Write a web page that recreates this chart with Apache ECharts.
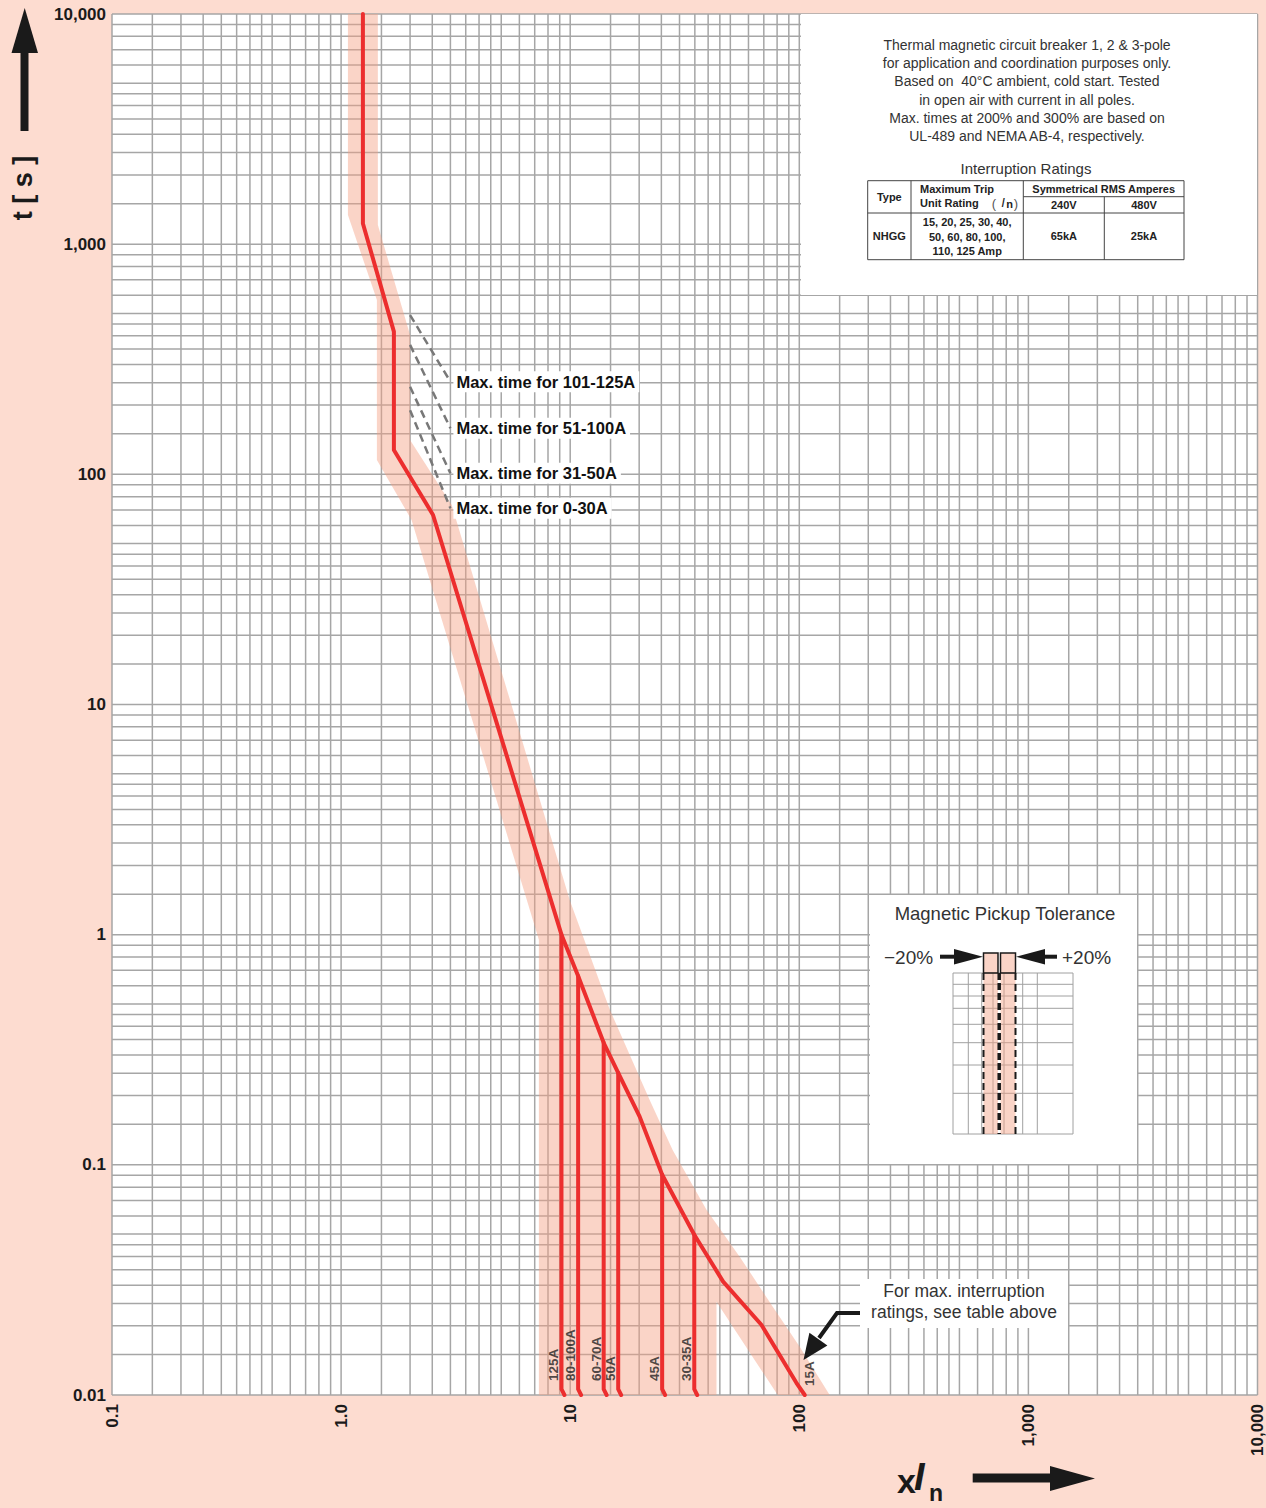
<!DOCTYPE html>
<html><head><meta charset="utf-8">
<script src="https://cdn.jsdelivr.net/npm/echarts@6/dist/echarts.min.js"></script>
<style>html,body{margin:0;padding:0;background:#fddcd0;}#c{width:1266px;height:1508px;}</style>
</head><body><div id="c"></div>
<script>
// ---------- axes ----------
const xTickValues = [0.1, 1, 10, 100, 1000, 10000];
const xTickLabels = ['0.1', '1.0', '10', '100', '1,000', '10,000'];
const yTickValues = [0.01, 0.1, 1, 10, 100, 1000, 10000];
const yTickLabels = ['0.01', '0.1', '1', '10', '100', '1,000', '10,000'];
const gridMantissas = [1, 1.5, 2, 2.5, 3, 3.5, 4, 4.5, 5, 6, 7, 8, 9];
const xDecades = [0.1, 1, 10, 100, 1000];
const yDecades = [0.01, 0.1, 1, 10, 100, 1000];

// ---------- trip curve (x / In , t [s]) ----------
const curveX = [1.245, 1.245, 1.70, 1.70, 2.52, 9.16, 10.83, 14.0, 16.2, 20.1, 25.2, 34.8, 46.5, 68.3, 97.1, 105.6];
const curveT = [10000, 1230, 417, 127.6, 66.6, 1, 0.662, 0.339, 0.251, 0.162, 0.0905, 0.0497, 0.0311, 0.0202, 0.0113, 0.01];

// instantaneous trip verticals
const tripLabels = ['125A', '80-100A', '60-70A', '50A', '45A', '30-35A'];
const tripX = [9.16, 10.83, 14.0, 16.2, 25.2, 34.8];
const tripTop = [1, 0.662, 0.339, 0.251, 0.0905, 0.0497];
const tripBottom = 0.01;
const endLabelText = '15A';

// max-time dashed lines (200% and 300%)
const maxTimeLabels = ['Max. time for 101-125A', 'Max. time for 51-100A', 'Max. time for 31-50A', 'Max. time for 0-30A'];
const maxTimeX = [2, 3];
const maxTimeAt200 = [492, 365, 240, 190];
const maxTimeAt300 = [252.7, 158.5, 101, 71.2];

// tolerance band outline
const bandX = [1.071, 1.071, 1.433, 1.433, 2.03, 7.30, 7.30, 43.5, 43.5, 80.5, 135.7, 100.4, 76.6, 55.0, 39.4, 28.0, 22.2, 14.9, 9.95, 3.04, 2.0, 2.0, 1.447, 1.447];
const bandT = [10000, 1340, 572, 115.5, 63.4, 0.95, 0.01, 0.01, 0.0254, 0.01, 0.01, 0.0162, 0.0242, 0.0398, 0.0637, 0.116, 0.1916, 0.4714, 1.416, 73.6, 141, 403, 1212, 10000];

// ---------- build ----------
const FONT = '"Liberation Sans", Arial, Helvetica, sans-serif';
const RED = '#ec2e2e';
const xGrid = [], yGrid = [];
xDecades.forEach(d => gridMantissas.forEach(m => xGrid.push(d * m)));
xGrid.push(10000);
yDecades.forEach(d => gridMantissas.forEach(m => yGrid.push(d * m)));
yGrid.push(10000);

function tickLabel(vals, labels) {
  return v => {
    const i = vals.findIndex(t => Math.abs(Math.log10(t) - Math.log10(v)) < 1e-6);
    return i >= 0 ? labels[i] : '';
  };
}

const series = [];
// grid lines (vertical)
series.push({
  type: 'custom', z: 1, silent: true, animation: false,
  data: xGrid.map(v => [v, 1]),
  renderItem(params, api) {
    const cs = params.coordSys; const p = api.coord([api.value(0), 1]);
    return { type: 'line', shape: { x1: p[0], y1: cs.y, x2: p[0], y2: cs.y + cs.height }, style: { stroke: '#a6a6a6', lineWidth: 1.5 } };
  }
});
// grid lines (horizontal)
series.push({
  type: 'custom', z: 1, silent: true, animation: false,
  data: yGrid.map(v => [1, v]),
  renderItem(params, api) {
    const cs = params.coordSys; const p = api.coord([1, api.value(1)]);
    return { type: 'line', shape: { x1: cs.x, y1: p[1], x2: cs.x + cs.width, y2: p[1] }, style: { stroke: '#a6a6a6', lineWidth: 1.5 } };
  }
});
// tolerance band
series.push({
  type: 'custom', z: 2, silent: true, animation: false,
  data: bandX.map((x, i) => [x, bandT[i]]),
  renderItem(params, api) {
    if (params.dataIndex !== 0) return null;
    const pts = bandX.map((x, i) => api.coord([x, bandT[i]]));
    return { type: 'polygon', shape: { points: pts }, style: { fill: 'rgba(245,160,130,0.45)' } };
  }
});
// trip verticals
tripX.forEach((x, i) => {
  series.push({
    type: 'line', z: 3, symbol: 'none', silent: true, animation: false,
    data: [[x, tripTop[i]], [x, tripBottom * 1.06], [x * 1.03, tripBottom]],
    lineStyle: { color: RED, width: 4, cap: 'round', join: 'round' }
  });
});
// main curve
series.push({
  type: 'line', z: 4, symbol: 'none', silent: true, animation: false,
  data: curveX.map((x, i) => [x, curveT[i]]),
  lineStyle: { color: RED, width: 4, join: 'round', cap: 'round' }
});
// dashed max-time lines with labels
maxTimeLabels.forEach((lab, i) => {
  series.push({
    type: 'line', z: 3, symbol: 'none', silent: true, animation: false, name: lab,
    data: [[maxTimeX[0], maxTimeAt200[i]], [maxTimeX[1], maxTimeAt300[i]]],
    lineStyle: { color: '#787878', width: 2.5, type: [8, 5] },
    endLabel: {
      show: true, formatter: lab, distance: 3,
      fontFamily: FONT, fontWeight: 'bold', fontSize: 16.5, color: '#111',
      backgroundColor: '#fff', padding: [2, 4, 2, 3]
    }
  });
});
// vertical rating labels
series.push({
  type: 'scatter', z: 5, silent: true, animation: false,
  symbolSize: 1, itemStyle: { color: 'rgba(0,0,0,0)' },
  data: tripX.map((x, i) => ({ value: [x, tripBottom], name: tripLabels[i] })),
  label: {
    show: true, position: 'inside', rotate: 90, align: 'left', verticalAlign: 'middle',
    offset: [14, -7.5], formatter: p => p.name,
    fontFamily: FONT, fontWeight: 'bold', fontSize: 13.5, color: '#222'
  }
});
series.push({
  type: 'scatter', z: 5, silent: true, animation: false,
  symbolSize: 1, itemStyle: { color: 'rgba(0,0,0,0)' },
  data: [{ value: [curveX[curveX.length - 1], tripBottom], name: endLabelText }],
  label: {
    show: true, position: 'inside', rotate: 90, align: 'left', verticalAlign: 'middle',
    offset: [9, 5], formatter: p => p.name,
    fontFamily: FONT, fontWeight: 'bold', fontSize: 13.5, color: '#222'
  }
});

// ---------- graphic annotations ----------
const g = [];
function rect(x, y, w, h, fill, z) { g.push({ type: 'rect', silent: true, z: z || 10, shape: { x, y, width: w, height: h }, style: { fill } }); }
function srect(x, y, w, h, stroke, lw, z) { g.push({ type: 'rect', silent: true, z: z || 11, shape: { x, y, width: w, height: h }, style: { fill: 'none', stroke, lineWidth: lw } }); }
function line(x1, y1, x2, y2, stroke, lw, dash, z) { g.push({ type: 'line', silent: true, z: z || 11, shape: { x1, y1, x2, y2 }, style: { stroke, lineWidth: lw, lineDash: dash || null } }); }
function poly(points, fill, z) { g.push({ type: 'polygon', silent: true, z: z || 11, shape: { points }, style: { fill } }); }
function polyline(points, stroke, lw, z) { g.push({ type: 'polyline', silent: true, z: z || 11, shape: { points }, style: { stroke, lineWidth: lw, fill: 'none' } }); }
function text(t, x, y, font, fill, align, va, extra) {
  g.push(Object.assign({ type: 'text', silent: true, z: 12, x, y, style: { text: t, font, fill, align, verticalAlign: va } }, extra || {}));
}

// axis titles & arrows
poly([[24.7, 8], [11.5, 53], [38, 53]], '#1a1a1a');
rect(20.5, 52, 8, 79, '#1a1a1a', 11);
text('t [ s ]', 23, 188, 'bold 27px ' + FONT, '#1a1a1a', 'center', 'middle', { rotation: Math.PI / 2 });
rect(972.7, 1473.5, 78, 9, '#1a1a1a', 11);
poly([[1050, 1466], [1050, 1491], [1095, 1478.5]], '#1a1a1a');
text('x', 897, 1481, 'bold 34px ' + FONT, '#1a1a1a', 'left', 'middle');
text('I', 914, 1477, 'italic bold 38px ' + FONT, '#1a1a1a', 'left', 'middle');
text('n', 929, 1493, 'bold 23px ' + FONT, '#1a1a1a', 'left', 'middle');

// top-right info box
const infoText = 'Thermal magnetic circuit breaker 1, 2 & 3-pole\nfor application and coordination purposes only.\nBased on  40°C ambient, cold start. Tested\nin open air with current in all poles.\nMax. times at 200% and 300% are based on\nUL-489 and NEMA AB-4, respectively.';
rect(801, 14, 456, 281, '#fff');
g.push({ type: 'text', silent: true, z: 12, x: 1027, y: 90.5, style: { text: infoText, font: '14px ' + FONT, fill: '#333', align: 'center', verticalAlign: 'middle', lineHeight: 18.3 } });
text('Interruption Ratings', 1026, 168, '15px ' + FONT, '#333', 'center', 'middle');
srect(867.7, 180.7, 316.3, 79, '#444', 1);
line(911, 180.7, 911, 259.7, '#444', 1);
line(1023.3, 180.7, 1023.3, 259.7, '#444', 1);
line(1104.3, 196.7, 1104.3, 259.7, '#444', 1);
line(1023.3, 196.7, 1184, 196.7, '#444', 1);
line(867.7, 213, 1184, 213, '#444', 1);
const TF = 'bold 11px ' + FONT;
text('Type', 889.3, 196.8, TF, '#222', 'center', 'middle');
text('Maximum Trip', 920, 189, TF, '#222', 'left', 'middle');
text('Unit Rating', 920, 203.3, TF, '#222', 'left', 'middle');
text('(', 994, 203.3, '13px ' + FONT, '#555', 'center', 'middle');
text('I', 1003, 202, 'italic 13px ' + FONT, '#222', 'center', 'middle');
text('n', 1009.5, 204, TF, '#222', 'center', 'middle');
text(')', 1016, 203.3, '13px ' + FONT, '#555', 'center', 'middle');
text('Symmetrical RMS Amperes', 1103.7, 188.7, TF, '#222', 'center', 'middle');
text('240V', 1063.8, 205, TF, '#222', 'center', 'middle');
text('480V', 1144, 205, TF, '#222', 'center', 'middle');
text('NHGG', 889.3, 236, TF, '#222', 'center', 'middle');
text('15, 20, 25, 30, 40,', 967.2, 222.3, TF, '#222', 'center', 'middle');
text('50, 60, 80, 100,', 967.2, 236.7, TF, '#222', 'center', 'middle');
text('110, 125 Amp', 967.2, 250.7, TF, '#222', 'center', 'middle');
text('65kA', 1063.8, 236, TF, '#222', 'center', 'middle');
text('25kA', 1144, 236, TF, '#222', 'center', 'middle');

// magnetic pickup tolerance box
rect(870, 895, 267, 269, '#fff');
text('Magnetic Pickup Tolerance', 1005, 913, '18.5px ' + FONT, '#333', 'center', 'middle');
rect(953, 973, 120, 161, '#fff', 11);
[968.3, 981.7, 993, 1004, 1022.7, 1037.3].forEach(x => line(x, 973, x, 1134, '#a0a0a0', 1, null, 11));
[984.3, 996, 1008.3, 1024.3, 1042.7, 1065, 1093.3].forEach(y => line(953, y, 1073, y, '#a0a0a0', 1, null, 11));
srect(953, 973, 120, 161, '#a0a0a0', 1, 11);
g.push({ type: 'rect', silent: true, z: 12, shape: { x: 983.5, y: 953, width: 14.5, height: 181 }, style: { fill: 'rgba(245,160,130,0.45)' } });
g.push({ type: 'rect', silent: true, z: 12, shape: { x: 1000.5, y: 953, width: 15, height: 181 }, style: { fill: 'rgba(245,160,130,0.45)' } });
srect(983.5, 953, 14.5, 20, '#1a1a1a', 1.5, 13);
srect(1000.5, 953, 15, 20, '#1a1a1a', 1.5, 13);
line(983.5, 973, 983.5, 1134, '#1a1a1a', 2, [7, 4], 13);
line(1015.5, 973, 1015.5, 1134, '#1a1a1a', 2, [7, 4], 13);
line(999.2, 973, 999.2, 1134, '#1a1a1a', 3.5, [7, 3], 13);
line(940, 956.7, 956, 956.7, '#1a1a1a', 4, null, 13);
poly([[954, 949], [954, 964.5], [983, 956.7]], '#1a1a1a', 13);
line(1043, 956.7, 1057, 956.7, '#1a1a1a', 4, null, 13);
poly([[1045, 949], [1045, 964.5], [1016, 956.7]], '#1a1a1a', 13);
text('\u221220%', 884, 957, '19px ' + FONT, '#333', 'left', 'middle');
text('+20%', 1062, 957, '19px ' + FONT, '#333', 'left', 'middle');

// interruption note box + arrow
rect(860, 1279, 208, 49, '#fff');
text('For max. interruption', 964, 1290.5, '17.5px ' + FONT, '#333', 'center', 'middle');
text('ratings, see table above', 964, 1312, '17.5px ' + FONT, '#333', 'center', 'middle');
polyline([[860, 1313], [837, 1313], [819, 1338]], '#1a1a1a', 4, 13);
poly([[803.5, 1360], [809.4, 1332.7], [827.4, 1345.5]], '#1a1a1a', 13);

const option = {
  backgroundColor: '#fddcd0',
  animation: false,
  grid: { left: 112, right: 8, top: 14, bottom: 113, show: true, backgroundColor: '#fff', borderWidth: 0 },
  xAxis: {
    type: 'log', logBase: 10, min: 0.1, max: 10000,
    axisLine: { show: false }, axisTick: { show: false }, splitLine: { show: false },
    axisLabel: { rotate: 90, margin: 9, fontFamily: FONT, fontWeight: 'bold', fontSize: 17, color: '#1a1a1a', formatter: tickLabel(xTickValues, xTickLabels), showMinLabel: true, showMaxLabel: true }
  },
  yAxis: {
    type: 'log', logBase: 10, min: 0.01, max: 10000,
    axisLine: { show: false }, axisTick: { show: false }, splitLine: { show: false },
    axisLabel: { margin: 6, fontFamily: FONT, fontWeight: 'bold', fontSize: 17, color: '#1a1a1a', formatter: tickLabel(yTickValues, yTickLabels), showMinLabel: true, showMaxLabel: true }
  },
  series,
  graphic: { elements: g }
};
const chart = echarts.init(document.getElementById('c'), null, { renderer: 'svg', width: 1266, height: 1508 });
chart.setOption(option);
</script></body></html>
